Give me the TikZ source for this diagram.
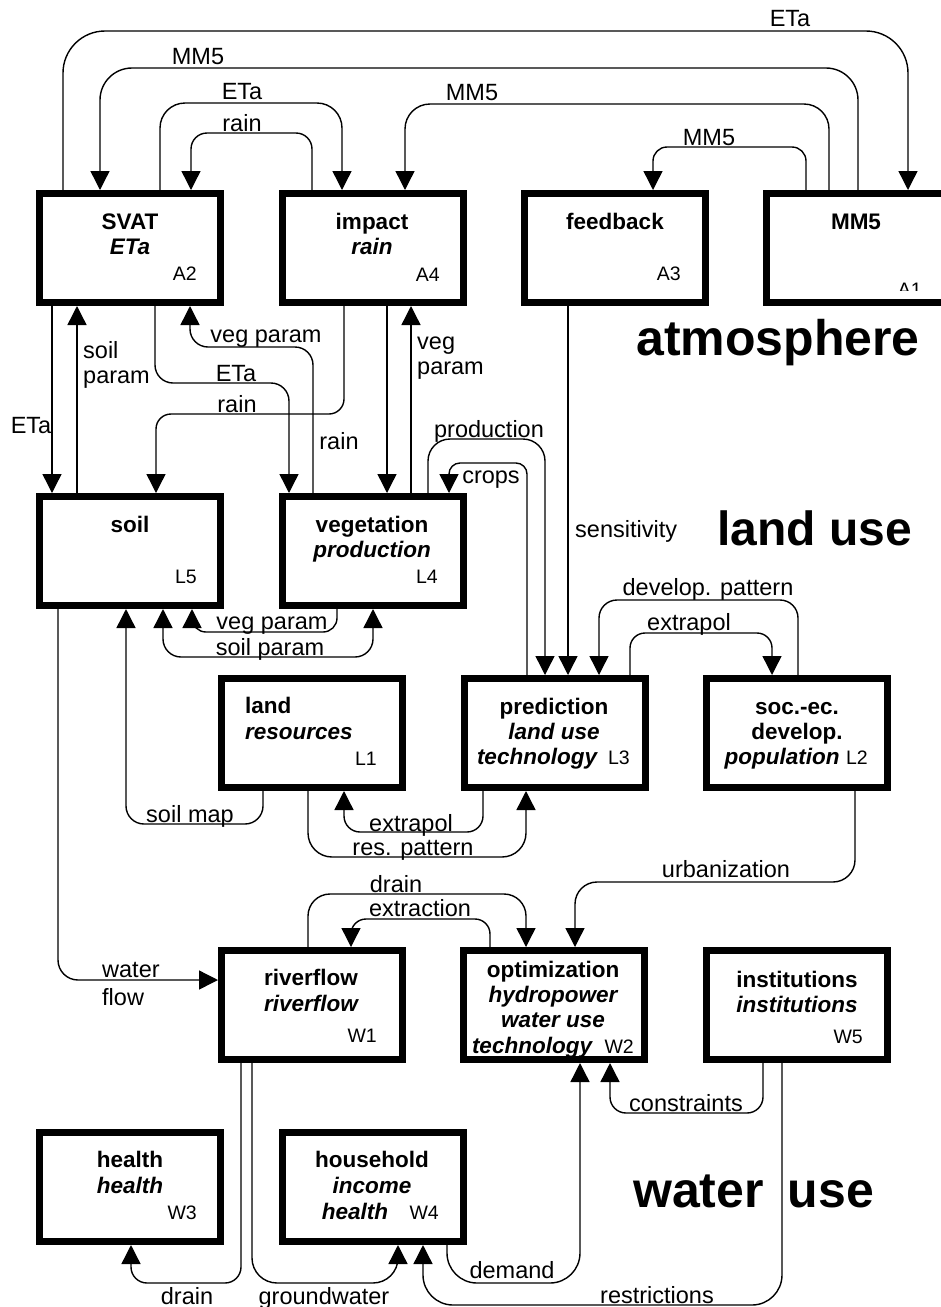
\documentclass[tikz,border=0pt]{standalone}
\usepackage{fontspec}
\setmainfont{Liberation Sans}
\usetikzlibrary{arrows.meta}
\begin{document}
\begin{tikzpicture}[x=1pt,y=-1pt,
  box/.style={draw, line width=7pt, minimum width=181pt, minimum height=109pt, inner sep=0pt},
  conn/.style={line width=1.4pt, rounded corners=18pt},
  arr/.style={conn, -{Triangle[width=19pt,length=19pt]}},
  darr/.style={conn, {Triangle[width=19pt,length=19pt]}-{Triangle[width=19pt,length=19pt]}},
  lbl/.style={font=\fontsize{23.5}{26}\selectfont, inner sep=0pt, anchor=base},
  lbll/.style={lbl, anchor=base west},
  ttl/.style={font=\fontsize{22.5}{25}\selectfont\bfseries, inner sep=0pt, anchor=base},
  sub/.style={font=\fontsize{22.5}{25}\selectfont\bfseries\itshape, inner sep=0pt, anchor=base},
  idl/.style={font=\fontsize{19.5}{22}\selectfont, inner sep=0pt, anchor=base east},
  big/.style={font=\fontsize{50}{56}\selectfont\bfseries, inner sep=0pt, anchor=base west},
]
\fill[white] (0,0) rectangle (941,1307);
\useasboundingbox (0,0) rectangle (941,1307);

% ---------------- boxes ----------------
\node[box] (svat)     at (130,248)  {};
\node[box] (impact)   at (373,248)  {};
\node[box] (feedback) at (615,248)  {};
\node[box] (mm5)      at (857,248)  {};
\node[box] (soil)     at (130,551)  {};
\node[box] (veg)      at (373,551)  {};
\node[box] (land)     at (312,733)  {};
\node[box] (pred)     at (555,733)  {};
\node[box] (soc)      at (797,733)  {};
\node[box] (river)    at (312,1005) {};
\node[box] (optim)    at (554,1005) {};
\node[box] (inst)     at (797,1005) {};
\node[box] (health)   at (130,1187) {};
\node[box] (house)    at (373,1187) {};

% ---------------- box texts ----------------
\node[ttl] (svat-t) at (130,229) {SVAT};
\node[sub] (svat-s) at (130,254) {ETa};
\node[idl] (svat-id) at (197,280) {A2};
\node[ttl] (impact-t) at (372,229) {impact};
\node[sub] (impact-s) at (372,254) {rain};
\node[idl] (impact-id) at (440,281) {A4};
\node[ttl] (feedback-t) at (615,229) {feedback};
\node[idl] (feedback-id) at (681,280) {A3};
\node[ttl] (mm5-t) at (856,229) {MM5};
\begin{scope}
  \clip (880,270) rectangle (941,290);
  \node[idl] (mm5-id) at (922,296) {A1};
\end{scope}

\node[ttl] (soil-t) at (130,532) {soil};
\node[idl] (soil-id) at (197,583) {L5};
\node[ttl] (veg-t) at (372,532) {vegetation};
\node[sub] (veg-s) at (372,557) {production};
\node[idl] (veg-id) at (438,583) {L4};

\node[ttl, anchor=base west] (land-t) at (245,713) {land};
\node[sub, anchor=base west] (land-s) at (245,739) {resources};
\node[idl] (land-id) at (377,765) {L1};
\node[ttl] (pred-t) at (554,714) {prediction};
\node[sub] (pred-s) at (554,739) {land use};
\node[sub] (pred-s2) at (537,764) {technology};
\node[idl] (pred-id) at (630,764) {L3};
\node[ttl] (soc-t) at (797,714) {soc.-ec.};
\node[ttl] (soc-t2) at (797,739) {develop.};
\node[sub] (soc-s) at (782,764) {population};
\node[idl] (soc-id) at (868,764) {L2};

\node[ttl] (river-t) at (311,985) {riverflow};
\node[sub] (river-s) at (311,1011) {riverflow};
\node[idl] (river-id) at (377,1042) {W1};
\node[ttl] (optim-t) at (553,977) {optimization};
\node[sub] (optim-s) at (553,1002) {hydropower};
\node[sub] (optim-s2) at (553,1027) {water use};
\node[sub] (optim-s3) at (532,1053) {technology};
\node[idl] (optim-id) at (634,1053) {W2};
\node[ttl] (inst-t) at (797,987) {institutions};
\node[sub] (inst-s) at (797,1012) {institutions};
\node[idl] (inst-id) at (863,1043) {W5};

\node[ttl] (health-t) at (130,1167) {health};
\node[sub] (health-s) at (130,1193) {health};
\node[idl] (health-id) at (197,1219) {W3};
\node[ttl] (house-t) at (372,1167) {household};
\node[sub] (house-s) at (372,1193) {income};
\node[sub] (house-s2) at (355,1219) {health};
\node[idl] (house-id) at (439,1219) {W4};

% ---------------- section titles ----------------
\node[big] (atmo) at (636,355) {atmosphere};
\node[big, font=\fontsize{48}{54}\selectfont\bfseries] (landuse) at (717,545) {land use};
\node[big] (wateruse) at (633,1207) {water\kern10pt\ use};

% ---------------- atmosphere connectors ----------------
\draw[arr, rounded corners=42pt] ([xshift=-67pt]svat.north) |- (908,31) -- ([xshift=51pt]mm5.north);
\node[lbl] (l-eta1) at (790,26) {ETa};
\draw[arr, rounded corners=32pt] ([xshift=1pt]mm5.north) |- (100,68) -- ([xshift=-30pt]svat.north);
\node[lbl] (l-mm5a) at (198,64) {MM5};
\draw[arr, rounded corners=25pt] ([xshift=30pt]svat.north) |- (342,103) -- ([xshift=-31pt]impact.north);
\node[lbl] (l-eta2) at (242,99) {ETa};
\draw[arr, rounded corners=16pt] ([xshift=-61pt]impact.north) |- (191,133) -- ([xshift=61pt]svat.north);
\node[lbl] (l-rain1) at (242,131) {rain};
\draw[arr, rounded corners=25pt] ([xshift=-28pt]mm5.north) |- (405,104) -- ([xshift=32pt]impact.north);
\node[lbl] (l-mm5b) at (472,100) {MM5};
\draw[arr, rounded corners=14pt] ([xshift=-51pt]mm5.north) |- (653,147) -- ([xshift=38pt]feedback.north);
\node[lbl] (l-mm5c) at (709,145) {MM5};

% ---------------- atmosphere to land use ----------------
\draw[arr] ([xshift=-78pt]svat.south) -- ([xshift=-78pt]soil.north);
\node[lbl] (l-eta3) at (31,433) {ETa};
\draw[arr] ([xshift=-53pt]soil.north) -- ([xshift=-53pt]svat.south);
\node[lbll] (l-soilp1) at (83,358) {soil};
\node[lbll] (l-soilp2) at (83,383) {param};
\draw[arr] ([xshift=25pt]svat.south) |- (289,383) -- ([xshift=-84pt]veg.north);
\node[lbl] (l-eta4) at (236,381) {ETa};
\draw[arr] ([xshift=-60pt]veg.north) |- (190,347) -- ([xshift=60pt]svat.south);
\node[lbl] (l-vegp1) at (266,342) {veg param};
\draw[arr, rounded corners=15pt] ([xshift=-29pt]impact.south) |- (156,414) -- ([xshift=26pt]soil.north);
\node[lbl] (l-rain2) at (237,412) {rain};
\draw[arr] ([xshift=14pt]impact.south) -- ([xshift=14pt]veg.north);
\node[lbl] (l-rain3) at (339,449) {rain};
\draw[arr] ([xshift=38pt]veg.north) -- ([xshift=38pt]impact.south);
\node[lbll] (l-vegp2) at (417,349) {veg};
\node[lbll] (l-vegp3) at (417,374) {param};
\draw[arr, rounded corners=22pt] ([xshift=55pt]veg.north) |- (545,439) -- ([xshift=-10pt]pred.north);
\node[lbl] (l-prod) at (489,437) {production};
\draw[arr, rounded corners=11pt] ([xshift=-28pt]pred.north) |- (449,463) -- ([xshift=76pt]veg.north);
\node[lbl] (l-crops) at (491,483) {crops};
\draw[arr] ([xshift=-47pt]feedback.south) -- ([xshift=13pt]pred.north);
\node[lbll] (l-sens) at (575,537) {sensitivity};
\draw[arr] ([xshift=1pt]soc.north) |- (599,600) -- ([xshift=44pt]pred.north);
\node[lbl] (l-devp) at (708,595) {develop. pattern};
\draw[arr, rounded corners=15pt] ([xshift=75pt]pred.north) |- (772,633) -- ([xshift=-25pt]soc.north);
\node[lbl] (l-extra1) at (689,630) {extrapol};

% ---------------- land use ----------------
\draw[arr, rounded corners=14pt] ([xshift=-36pt]veg.south) |- (192,632) -- ([xshift=62pt]soil.south);
\node[lbl] (l-vegp4) at (272,629) {veg param};
\draw[darr] ([xshift=33pt]soil.south) |- (373,657) -- (veg.south);
\node[lbl] (l-soilp3) at (270,655) {soil param};
\draw[arr] ([xshift=-49pt]land.south) |- (126,824) -- ([xshift=-4pt]soil.south);
\node[lbl] (l-soilmap) at (190,822) {soil map};
\draw[arr, rounded corners=20pt] ([xshift=-72pt]soil.south) |- ([yshift=25pt]river.west);
\node[lbll] (l-water) at (102,977) {water};
\node[lbll] (l-flow) at (102,1005) {flow};
\draw[arr, rounded corners=16pt] ([xshift=-72pt]pred.south) |- (344,832) -- ([xshift=32pt]land.south);
\node[lbl] (l-extra2) at (411,831) {extrapol};
\draw[arr, rounded corners=24pt] ([xshift=-4pt]land.south) |- (526,857) -- ([xshift=-29pt]pred.south);
\node[lbl] (l-respat) at (413,855) {res. pattern};
\draw[arr, rounded corners=22pt] ([xshift=58pt]soc.south) |- (575,882) -- ([xshift=21pt]optim.north);
\node[lbl] (l-urban) at (726,877) {urbanization};

% ---------------- water use ----------------
\draw[arr, rounded corners=22pt] ([xshift=-4pt]river.north) |- (526,894) -- ([xshift=-28pt]optim.north);
\node[lbl] (l-drain1) at (396,892) {drain};
\draw[arr, rounded corners=15pt] ([xshift=-64pt]optim.north) |- (351,919) -- ([xshift=39pt]river.north);
\node[lbl] (l-extract) at (420,916) {extraction};
\draw[arr, rounded corners=16pt] ([xshift=-71pt]river.south) |- (131,1283) -- ([xshift=1pt]health.south);
\node[lbl] (l-drain2) at (187,1304) {drain};
\draw[arr, rounded corners=25pt] ([xshift=-60pt]river.south) |- (398,1283) -- ([xshift=25pt]house.south);
\node[lbl] (l-ground) at (324,1304) {groundwater};
\draw[arr, rounded corners=30pt] ([xshift=74pt]house.south) |- (580,1283) -- ([xshift=26pt]optim.south);
\node[lbl] (l-demand) at (512,1278) {demand};
\draw[arr, rounded corners=16pt] ([xshift=-34pt]inst.south) |- (610,1113) -- ([xshift=56pt]optim.south);
\node[lbl] (l-constr) at (686,1111) {constraints};
\draw[arr, rounded corners=30pt] ([xshift=-15pt]inst.south) |- (423,1305) -- ([xshift=50pt]house.south);
\node[lbl] (l-restr) at (657,1303) {restrictions};
\end{tikzpicture}
\end{document}
